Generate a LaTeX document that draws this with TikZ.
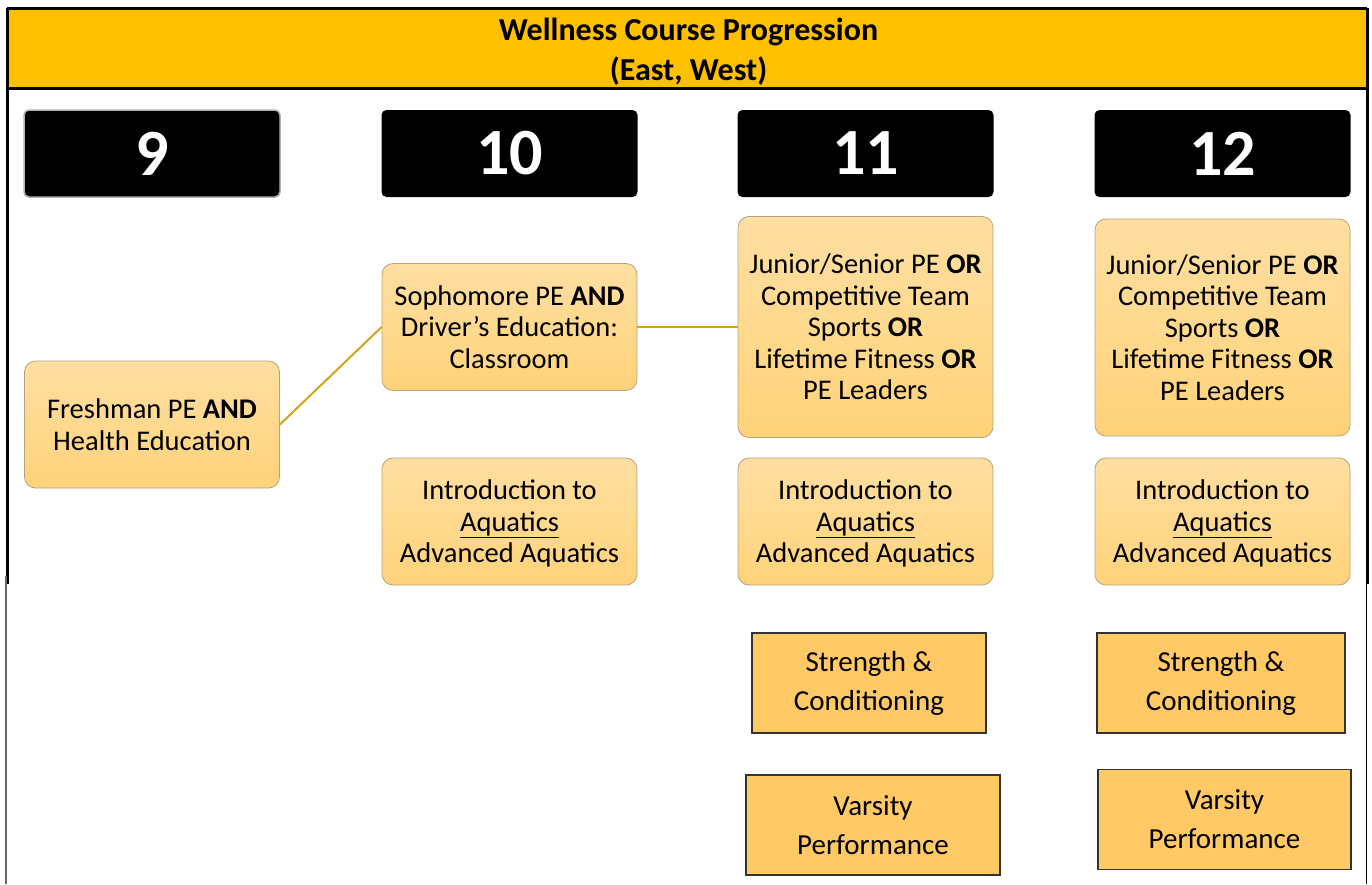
\documentclass[tikz,border=0pt]{standalone}
\usepackage{fontspec}
\setmainfont{Carlito}
\definecolor{hdr}{HTML}{FFC000}
\definecolor{boxtop}{HTML}{FEDFA2}
\definecolor{boxbot}{HTML}{FFD37A}
\definecolor{boxline}{HTML}{B9A27A}
\definecolor{sqfill}{HTML}{FFC966}
\definecolor{linkc}{HTML}{D4A418}
\tikzset{
  gradebox/.style={fill=black, rounded corners=5pt, text=white, font=\fontsize{66}{66}\selectfont\bfseries, minimum width=256, minimum height=87, inner sep=0},
  course/.style={rounded corners=11pt, draw=boxline, line width=0.8pt, top color=boxtop, bottom color=boxbot, align=center, font=\fontsize{28.5}{31.5}\selectfont, inner ysep=0, inner xsep=0, text depth=0pt, minimum width=255},
  sq/.style={draw=black!80, line width=1.2pt, fill=sqfill, align=center, font=\fontsize{29}{39}\selectfont, inner sep=0, minimum height=100},
  link/.style={draw=linkc, line width=2pt},
  frame/.style={draw=black, line width=3pt}
}
\begin{document}
\begin{tikzpicture}[x=1pt,y=-1pt]
\useasboundingbox (0,0) rectangle (1372,884);
\fill[white] (0,0) rectangle (1372,884);
% header
\fill[hdr] (7,8) rectangle (1367,88);
\node[align=center, font=\fontsize{32}{40}\selectfont\bfseries] (title) at (688.5,52) {Wellness Course Progression\\(East, West)};
\draw[frame] (7,8) -- (1367,8);
\draw[frame] (7,88) -- (1367,88);
\draw[frame] (7,8) -- (7,584);
\draw[frame] (1367,8) -- (1367,584);
\draw[draw=gray!80!black, line width=1.5pt] (6,576) -- (6,884);
\draw[draw=black, line width=1pt] (1366,583) -- (1366,884);
% grade boxes
\node[gradebox, draw=gray!60, line width=1.5pt] (g9) at (152,153.5) {9};
\node[gradebox] (g10) at (509.5,153.5) {10};
\node[gradebox] (g11) at (865.5,153.5) {11};
\node[gradebox] (g12) at (1222.5,153.5) {12};
% courses
\node[course, minimum height=127] (fresh) at (152,424.5) {Freshman PE \textbf{AND}\\Health Education};
\node[course, minimum height=127] (soph) at (509.5,327) {Sophomore PE \textbf{AND}\\Driver’s Education:\\Classroom};
\node[course, minimum height=127] (aq10) at (509.5,521.5) {Introduction to\\\underline{Aquatics}\\Advanced Aquatics};
\node[course, minimum height=221] (jun11) at (865.5,327) {Junior/Senior PE \textbf{OR}\\Competitive Team\\Sports \textbf{OR}\\Lifetime Fitness \textbf{OR}\\PE Leaders};
\node[course, minimum height=127] (aq11) at (865.5,521.5) {Introduction to\\\underline{Aquatics}\\Advanced Aquatics};
\node[course, minimum height=217] (jun12) at (1222.5,327.5) {Junior/Senior PE \textbf{OR}\\Competitive Team\\Sports \textbf{OR}\\Lifetime Fitness \textbf{OR}\\PE Leaders};
\node[course, minimum height=127] (aq12) at (1222.5,521.5) {Introduction to\\\underline{Aquatics}\\Advanced Aquatics};
% square boxes
\node[sq, minimum width=234] (str11) at (869,683) {Strength \&\\Conditioning};
\node[sq, minimum width=254] (var11) at (873,825) {Varsity\\Performance};
\node[sq, minimum width=248] (str12) at (1221,683) {Strength \&\\Conditioning};
\node[sq, minimum width=253] (var12) at (1224.5,819.5) {Varsity\\Performance};
% connectors
\draw[link] (fresh.east) -- (soph.west);
\draw[link] (soph.east) -- (jun11.west);
\end{tikzpicture}
\end{document}
